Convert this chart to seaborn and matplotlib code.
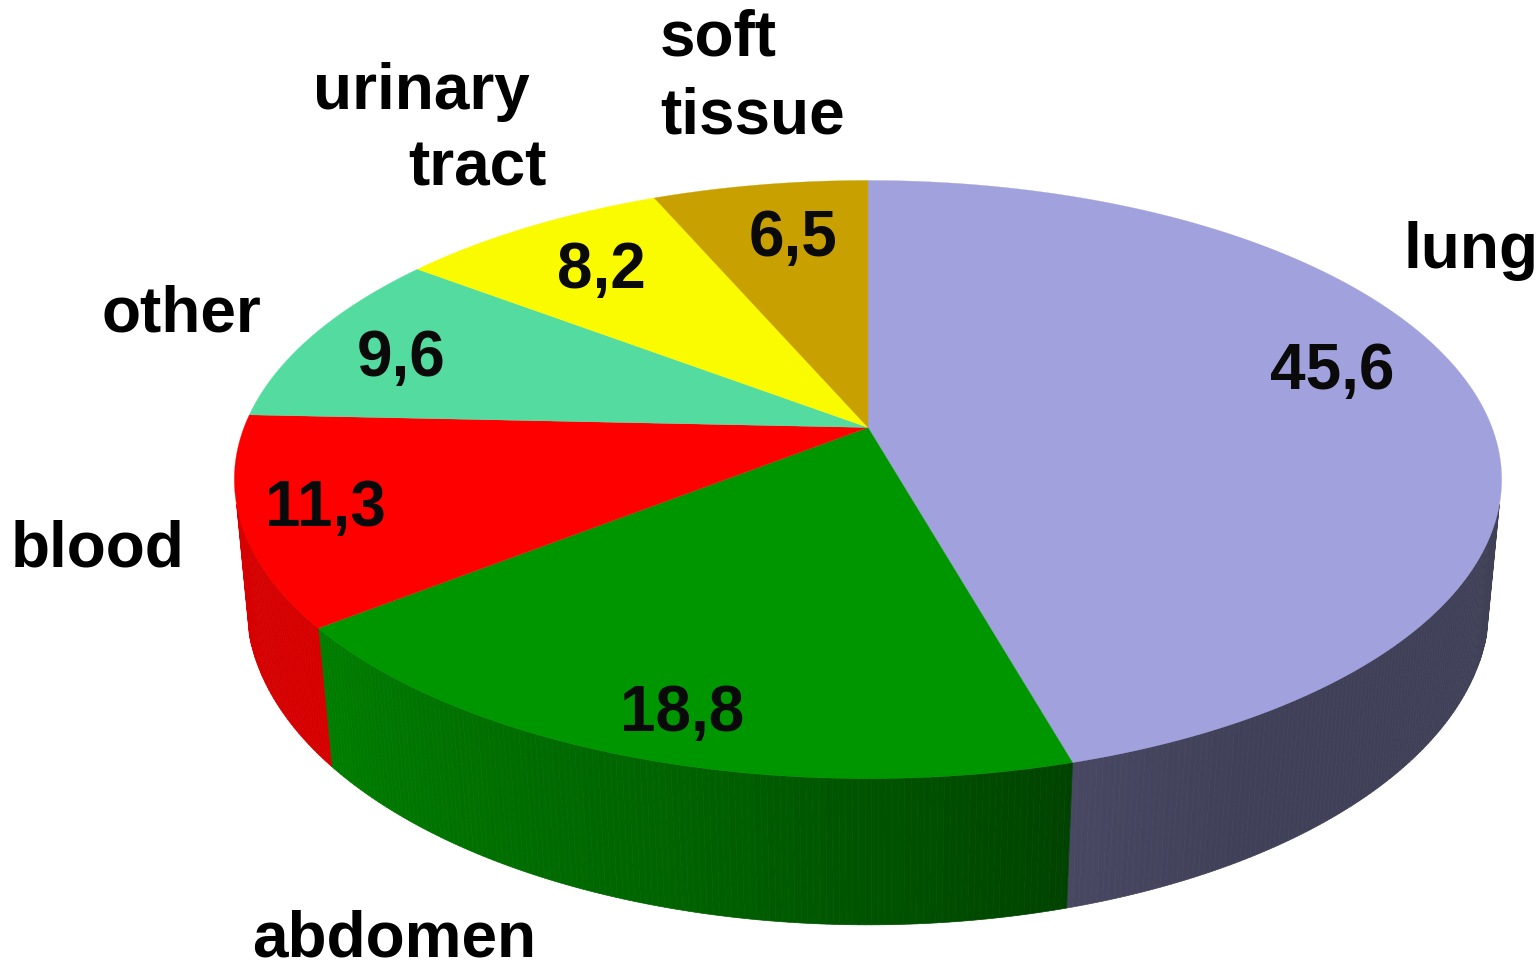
import numpy as np
import matplotlib
matplotlib.use("Agg")
import matplotlib.pyplot as plt
import seaborn as sns

# Data
categories = ["lung", "abdomen", "blood", "other", "urinary\ntract", "soft\ntissue"]
values = [45.6, 18.8, 11.3, 9.6, 8.2, 6.5]
value_labels = ["45,6", "18,8", "11,3", "9,6", "8,2", "6,5"]
top_hex = ["#A1A1DD", "#009600", "#FF0000", "#54DCA0", "#FBFB00", "#C8A000"]

sns.set_theme(style="white")
plt.rcParams["font.family"] = ["Liberation Sans", "DejaVu Sans"]
palette = sns.color_palette(top_hex)

fig, ax = plt.subplots(figsize=(15.4, 9.62), dpi=100)
ax.set_position([0, 0, 1, 1])
ax.set_xlim(0, 1540)
ax.set_ylim(962, 0)
ax.axis("off")


def project(theta_deg, cx, r, y0, a, c):
    """Perspective view of a disc; theta runs clockwise from the top."""
    t = np.radians(theta_deg)
    d = 1 + c * np.cos(t)
    return cx + r * np.sin(t) / d, (y0 - a * np.cos(t)) / d


TOP = dict(cx=868, r=624, y0=428.5, a=215.5, c=0.1739)
BOT = dict(cx=868, r=613, y0=553.5, a=220.5, c=0.164)
WALL_FROM, WALL_TO = 104.7, 255.3


def shade(theta):
    return np.interp(theta, [105, 150, 164, 195, 232, 256],
                     [0.395, 0.40, 0.445, 0.66, 0.84, 0.84])


edges = np.concatenate([[0], np.cumsum(values)]) / np.sum(values) * 360

# Side walls
for i, col in enumerate(palette):
    lo, hi = max(edges[i], WALL_FROM), min(edges[i + 1], WALL_TO)
    if hi <= lo:
        continue
    n = max(2, int((hi - lo) * 2) + 1)
    th = np.linspace(lo, hi, n)
    for t0, t1 in zip(th[:-1], th[1:]):
        tt = np.array([t0, t1])
        ux, uy = project(tt, **TOP)
        lx, ly = project(tt, **BOT)
        s = shade((t0 + t1) / 2)
        fc = tuple(np.array(col) * s)
        ax.fill(np.r_[ux, lx[::-1]], np.r_[uy, ly[::-1]], color=fc, lw=0.5, zorder=2)

# Top face
for i, col in enumerate(palette):
    th = np.linspace(edges[i], edges[i + 1], 200)
    x, y = project(th, **TOP)
    ax.fill(np.r_[TOP["cx"], x], np.r_[TOP["y0"], y], color=col, lw=0.2, zorder=3)

# Text
lab_fs = 46
val_fs = 46
label_pos = [(1404, 268, "left"), (252, 957, "left"), (11, 567, "left"), (102, 332, "left")]
for name, (x, y, ha) in zip(categories[:4], label_pos):
    ax.text(x, y, name, fontsize=lab_fs, fontweight="bold", color="black",
            ha=ha, va="baseline", zorder=5)
ax.text(313, 109, categories[4].split("\n")[0], fontsize=lab_fs, fontweight="bold", ha="left", va="baseline", color="black", zorder=5)
ax.text(547, 185, categories[4].split("\n")[1], fontsize=lab_fs, fontweight="bold", ha="right", va="baseline", color="black", zorder=5)
ax.text(660, 56, categories[5].split("\n")[0], fontsize=lab_fs, fontweight="bold", ha="left", va="baseline", color="black", zorder=5)
ax.text(660, 133, categories[5].split("\n")[1], fontsize=lab_fs, fontweight="bold", ha="left", va="baseline", color="black", zorder=5)

value_pos = [(1270, 389), (620, 731), (265, 526), (357, 376), (557, 288), (749, 256)]
for txt, (x, y) in zip(value_labels, value_pos):
    ax.text(x, y, txt, fontsize=val_fs, fontweight="bold", color="#0a0a0a",
            ha="left", va="baseline", zorder=5)

fig.savefig("out.png", dpi=100, facecolor="white")
